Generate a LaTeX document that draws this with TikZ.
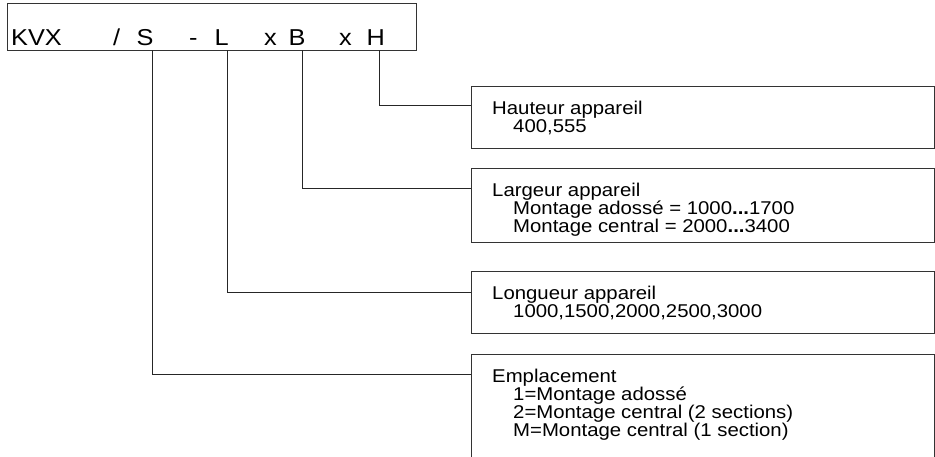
\documentclass[tikz,border=0pt]{standalone}
\usepackage{fontspec}
\setmainfont[FakeStretch=1.1]{Liberation Sans}
\usepackage{tikz}

\begin{document}
\begin{tikzpicture}[x=1pt,y=-1pt,
	cadre/.style={draw=black!80,line width=0.9pt,rectangle,anchor=north west,inner sep=0pt},
	lettre/.style={anchor=base west,inner sep=0pt,font=\fontsize{23}{26}\selectfont},
	texte/.style={anchor=base west,inner sep=0pt,align=left,font=\fontsize{18.5}{18}\selectfont},
	liaison/.style={draw=black!85,line width=0.9pt}]
	%
	% Limites de l'image
	\def\cadreL{935}
	\def\cadreH{456}
	\def\retrait{21pt}
	\useasboundingbox (0,0) rectangle (\cadreL,\cadreH);
	\clip (0,0) rectangle (\cadreL,\cadreH);
	%
	% Code de commande
	\node[cadre,minimum width=409pt,minimum height=47pt] (code) at (7,3) {};
	\node[lettre] (kvx) at (11,45) {KVX};
	\node[lettre] (barre) at (113,45) {/};
	\node[lettre] (S) at (136.5,45) {S};
	\node[lettre] (tiret) at (189,45) {-};
	\node[lettre] (L) at (214.5,45) {L};
	\node[lettre] (xB) at (264,45) {x};
	\node[lettre] (B) at (288.5,45) {B};
	\node[lettre] (xH) at (339,45) {x};
	\node[lettre] (H) at (366.5,45) {H};
	%
	% Pieds des liaisons
	\coordinate (piedS) at (152,50);
	\coordinate (piedL) at (227,50);
	\coordinate (piedB) at (302,50);
	\coordinate (piedH) at (379,50);
	%
	% Cadres de description
	\node[cadre,minimum width=463pt,minimum height=62pt] (hauteur) at (471,86) {};
	\node[cadre,minimum width=463pt,minimum height=74pt] (largeur) at (471,168) {};
	\node[cadre,minimum width=463pt,minimum height=62pt] (longueur) at (471,271) {};
	\node[cadre,minimum width=463pt,minimum height=120pt] (emplacement) at (471,354) {};
	%
	% Textes (ancre sur la ligne de base de la derniere ligne)
	\node[texte] (hauteurtxt) at ([xshift=21pt,yshift=-46pt]hauteur.north west)
		{Hauteur appareil\\\hspace*{\retrait}400,555};
	\node[texte] (largeurtxt) at ([xshift=21pt,yshift=-64pt]largeur.north west)
		{Largeur appareil\\\hspace*{\retrait}Montage adossé = 1000\textbf{...}1700\\\hspace*{\retrait}Montage central = 2000\textbf{...}3400};
	\node[texte] (longueurtxt) at ([xshift=21pt,yshift=-46pt]longueur.north west)
		{Longueur appareil\\\hspace*{\retrait}1000,1500,2000,2500,3000};
	\node[texte] (emplacementtxt) at ([xshift=21pt,yshift=-82pt]emplacement.north west)
		{Emplacement\\\hspace*{\retrait}1=Montage adossé\\\hspace*{\retrait}2=Montage central (2 sections)\\\hspace*{\retrait}M=Montage central (1 section)};
	%
	% Liaisons
	\draw[liaison] (piedH) |- ([yshift=-19pt]hauteur.north west);
	\draw[liaison] (piedB) |- ([yshift=-20pt]largeur.north west);
	\draw[liaison] (piedL) |- ([yshift=-21pt]longueur.north west);
	\draw[liaison] (piedS) |- ([yshift=-20pt]emplacement.north west);
\end{tikzpicture}
\end{document}
